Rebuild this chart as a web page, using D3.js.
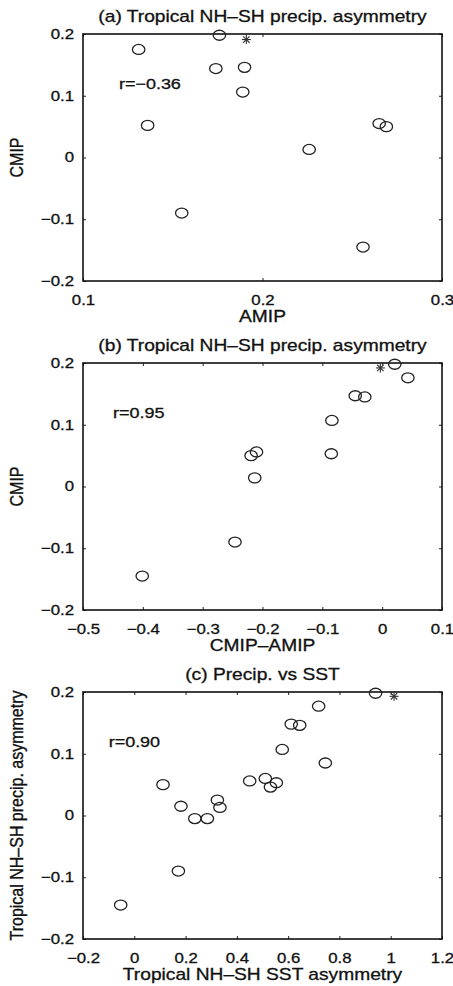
<!DOCTYPE html>
<html>
<head>
<meta charset="utf-8">
<script src="https://cdn.jsdelivr.net/npm/d3@7"></script>
<style>
  body { margin: 0; background: #fff; }
  svg text { font-family: "Liberation Sans", Arial, Helvetica, sans-serif; fill: #111; stroke: #111; stroke-width: 0.3; }
</style>
</head>
<body>
<div id="chart"></div>
<script>
// panel (a): CMIP vs AMIP
const aAmip = [0.131, 0.176, 0.174, 0.190, 0.189, 0.136, 0.265, 0.269, 0.226, 0.155, 0.256];
const aCmip = [0.175, 0.198, 0.144, 0.146, 0.106, 0.052, 0.055, 0.050, 0.013, -0.090, -0.145];
const aStar = [0.191, 0.191];

// panel (b): CMIP vs CMIP-AMIP
const bDiff = [0.043, 0.021, -0.029, -0.045, -0.084, -0.085, -0.210, -0.219, -0.213, -0.246, -0.401];
const bCmip = [0.176, 0.198, 0.145, 0.147, 0.107, 0.053, 0.056, 0.050, 0.014, -0.090, -0.145];
const bStar = [-0.003, 0.192];

// panel (c): precip asymmetry vs SST asymmetry
const cSst = [-0.053, 0.172, 0.112, 0.182, 0.236, 0.285, 0.324, 0.334, 0.450, 0.511, 0.531,
              0.554, 0.577, 0.612, 0.645, 0.745, 0.719, 0.941];
const cPre = [-0.145, -0.090, 0.050, 0.015, -0.005, -0.005, 0.025, 0.013, 0.056, 0.060, 0.046,
              0.053, 0.107, 0.148, 0.146, 0.085, 0.177, 0.198];
const cStar = [1.013, 0.193];

const panels = [
  { title: '(a) Tropical NH\u2013SH precip. asymmetry', xlab: 'AMIP', ylab: 'CMIP',
    xdom: [0.1, 0.3], xticks: [0.1, 0.2, 0.3], xs: aAmip, ys: aCmip, star: aStar,
    r: 'r=\u22120.36', rx: 0.12, top: 34 },
  { title: '(b) Tropical NH\u2013SH precip. asymmetry', xlab: 'CMIP\u2013AMIP', ylab: 'CMIP',
    xdom: [-0.5, 0.1], xticks: [-0.5, -0.4, -0.3, -0.2, -0.1, 0, 0.1], xs: bDiff, ys: bCmip, star: bStar,
    r: 'r=0.95', rx: -0.45, top: 363 },
  { title: '(c) Precip. vs SST', xlab: 'Tropical NH\u2013SH SST asymmetry', ylab: 'Tropical NH\u2013SH precip. asymmetry',
    xdom: [-0.2, 1.2], xticks: [-0.2, 0, 0.2, 0.4, 0.6, 0.8, 1, 1.2], xs: cSst, ys: cPre, star: cStar,
    r: 'r=0.90', rx: -0.1, top: 692 }
];
const yticks = [-0.2, -0.1, 0, 0.1, 0.2];

const W = 453, H = 986;
const left = 83, right = 442, ph = 247;
const SX = 1.2; // horizontal stretch of the original figure

const fmt = d => (d === 0 ? '0' : String(d).replace('-', '\u2212'));

const svg = d3.select('#chart').append('svg')
  .attr('width', W)
  .attr('height', H);

panels.forEach(p => {
  const x = d3.scaleLinear().domain(p.xdom).range([left, right]);
  const y = d3.scaleLinear().domain([-0.2, 0.2]).range([p.top + ph, p.top]);
  const g = svg.append('g');

  // ticks, inward on all four sides
  const ax = [
    { a: d3.axisBottom(x).tickValues(p.xticks).tickFormat(fmt).tickPadding(14), t: `translate(0,${p.top + ph})` },
    { a: d3.axisTop(x).tickValues(p.xticks).tickFormat(''), t: `translate(0,${p.top})` },
    { a: d3.axisLeft(y).tickValues(yticks).tickFormat(fmt).tickPadding(9 / SX), t: `translate(${left},0)` },
    { a: d3.axisRight(y).tickValues(yticks).tickFormat(''), t: `translate(${right},0)` }
  ];
  ax.forEach(o => {
    const ag = g.append('g')
      .attr('transform', o.t)
      .call(o.a.tickSizeInner(-3).tickSizeOuter(0));
    ag.select('.domain').remove();
    ag.selectAll('line').attr('stroke', '#222');
    ag.selectAll('text')
      .attr('font-size', 14)
      .attr('font-family', null)
      .attr('fill', '#111')
      .attr('transform', `scale(${SX},1)`);
  });

  // box
  g.append('rect')
    .attr('x', left)
    .attr('y', p.top)
    .attr('width', right - left)
    .attr('height', ph)
    .attr('fill', 'none')
    .attr('stroke', '#111')
    .attr('stroke-width', 1.6);

  // title
  g.append('text')
    .attr('text-anchor', 'middle')
    .attr('font-size', 16)
    .attr('transform', `translate(${(left + right) / 2},${p.top - 12}) scale(${SX},1)`)
    .text(p.title);

  // x label
  g.append('text')
    .attr('text-anchor', 'middle')
    .attr('font-size', 16)
    .attr('transform', `translate(${(left + right) / 2},${p.top + ph + 41}) scale(${SX},1)`)
    .text(p.xlab);

  // y label
  g.append('text')
    .attr('text-anchor', 'middle')
    .attr('font-size', 16)
    .attr('transform', `translate(23,${p.top + ph / 2}) rotate(-90) scale(1,${SX})`)
    .text(p.ylab);

  // correlation
  g.append('text')
    .attr('font-size', 15)
    .attr('dy', '0.35em')
    .attr('transform', `translate(${x(p.rx)},${y(0.12)}) scale(${SX},1)`)
    .text(p.r);

  // model circles
  g.selectAll('ellipse.pt')
    .data(p.xs)
    .join('ellipse')
    .attr('class', 'pt')
    .attr('cx', d => x(d))
    .attr('cy', (d, i) => y(p.ys[i]))
    .attr('rx', 6.2)
    .attr('ry', 5)
    .attr('fill', 'none')
    .attr('stroke', '#222')
    .attr('stroke-width', 1.3);

  // observation asterisk
  const sx = x(p.star[0]), sy = y(p.star[1]);
  const star = g.append('g').attr('transform', `translate(${sx},${sy})`);
  [0, 45, 90, 135].forEach(a => {
    star.append('line')
      .attr('x1', -4.5).attr('x2', 4.5)
      .attr('y1', 0).attr('y2', 0)
      .attr('transform', `rotate(${a})`)
      .attr('stroke', '#333')
      .attr('stroke-width', 1.1);
  });
});
</script>
</body>
</html>
